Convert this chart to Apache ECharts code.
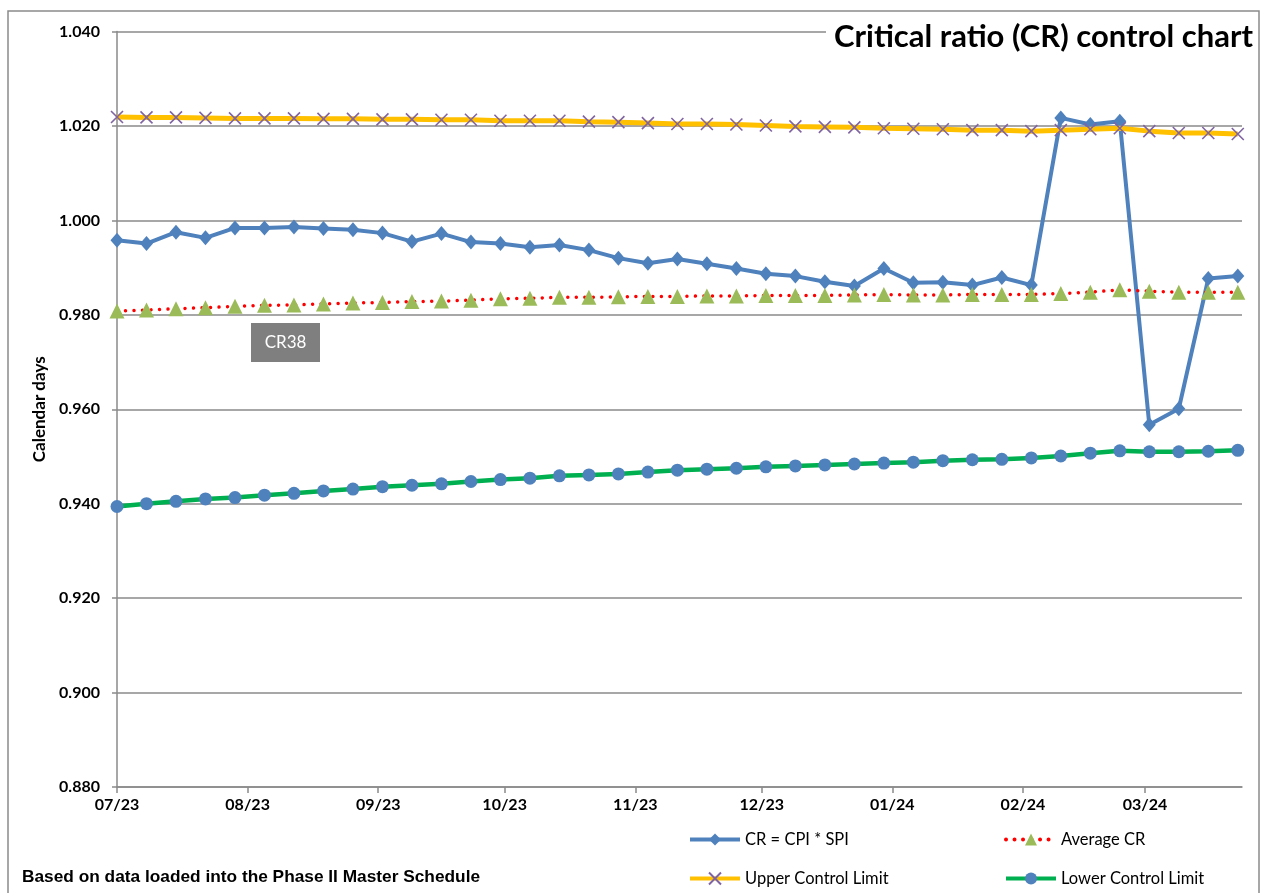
<!DOCTYPE html>
<html>
<head>
<meta charset="utf-8">
<script src="https://cdn.jsdelivr.net/npm/echarts@6/dist/echarts.min.js"></script>
<style>
html,body{margin:0;padding:0;background:#fff;}
#chart{width:1265px;height:893px;}
</style>
</head>
<body>
<div id="chart"></div>
<script>
// ---- data ----
const weekDates = ['2023-07-01','2023-07-08','2023-07-15','2023-07-22','2023-07-29',
  '2023-08-05','2023-08-12','2023-08-19','2023-08-26',
  '2023-09-02','2023-09-09','2023-09-16','2023-09-23','2023-09-30',
  '2023-10-07','2023-10-14','2023-10-21','2023-10-28',
  '2023-11-04','2023-11-11','2023-11-18','2023-11-25',
  '2023-12-02','2023-12-09','2023-12-16','2023-12-23','2023-12-30',
  '2024-01-06','2024-01-13','2024-01-20','2024-01-27',
  '2024-02-03','2024-02-10','2024-02-17','2024-02-24',
  '2024-03-02','2024-03-09','2024-03-16','2024-03-23'];
const crValues = [0.9958,0.9951,0.9975,0.9963,0.9984,0.9984,0.9986,0.9983,0.9980,0.9973,
  0.9955,0.9972,0.9954,0.9951,0.9943,0.9948,0.9937,0.9920,0.9909,0.9918,
  0.9908,0.9898,0.9887,0.9882,0.9870,0.9861,0.9898,0.9868,0.9869,0.9863,
  0.9879,0.9863,1.0217,1.0203,1.0210,0.9567,0.9601,0.9877,0.9882];
const avgValues = [0.9808,0.9810,0.9813,0.9815,0.9818,0.9820,0.9821,0.9823,0.9825,0.9826,
  0.9828,0.9829,0.9831,0.9834,0.9835,0.9837,0.9837,0.9838,0.9839,0.9839,
  0.9840,0.9840,0.9841,0.9841,0.9841,0.9842,0.9843,0.9842,0.9842,0.9843,
  0.9843,0.9843,0.9845,0.9848,0.9853,0.9850,0.9848,0.9848,0.9848];
const uclValues = [1.0219,1.0218,1.0218,1.0217,1.0216,1.0216,1.0216,1.0215,1.0215,1.0214,
  1.0214,1.0213,1.0213,1.0211,1.0211,1.0211,1.0209,1.0208,1.0206,1.0204,
  1.0204,1.0203,1.0201,1.0199,1.0198,1.0197,1.0195,1.0194,1.0193,1.0191,
  1.0191,1.0189,1.0191,1.0193,1.0195,1.0189,1.0185,1.0185,1.0183];
const lclValues = [0.9394,0.9400,0.9405,0.9410,0.9413,0.9418,0.9422,0.9427,0.9431,0.9436,
  0.9439,0.9442,0.9447,0.9451,0.9454,0.9459,0.9461,0.9463,0.9467,0.9471,
  0.9473,0.9475,0.9478,0.9480,0.9482,0.9484,0.9486,0.9488,0.9491,0.9493,
  0.9494,0.9497,0.9501,0.9507,0.9512,0.9510,0.9510,0.9511,0.9513];
const monthTicks = ['2023-07-01','2023-08-01','2023-09-01','2023-10-01','2023-11-01',
  '2023-12-01','2024-01-01','2024-02-01','2024-03-01'];
const monthLabels = ['07/23','08/23','09/23','10/23','11/23','12/23','01/24','02/24','03/24'];
const axisStart = '2023-07-01';
const axisEnd = '2024-03-24';
const seriesNames = ['CR = CPI * SPI','Average CR','Upper Control Limit','Lower Control Limit'];

// ---- helpers ----
function ts(s){ const p = s.split('-').map(Number); return Date.UTC(p[0], p[1]-1, p[2]); }
const tickTs = monthTicks.map(ts);
function pairs(vals){ return weekDates.map((d,i)=>[ts(d), vals[i]]); }

const FONT = 'Lato, "Open Sans", sans-serif';
const GRAY = '#8a8a8a';
const xSym = 'path://M0,0L10,10M10,0L0,10';

const legendCommon = {
  orient:'vertical', top:831, itemWidth:50, itemHeight:15, itemGap:22, padding:0,
  lineStyle:{width:4},
  textStyle:{fontFamily:FONT, fontSize:16.5, color:'#000'}
};

const chart = echarts.init(document.getElementById('chart'), null, {renderer:'canvas'});
chart.setOption({
  animation:false,
  backgroundColor:'#fff',
  title:{
    text:'Critical ratio (CR) control chart',
    right:7, top:17,
    padding:[4,5,3,8],
    backgroundColor:'#fff',
    textStyle:{fontFamily:FONT, fontWeight:'bold', fontSize:31, color:'#000'}
  },
  grid:{left:117, right:23, top:31.5, bottom:106, outerBoundsMode:'none', containLabel:false},
  xAxis:{
    type:'value',
    min:ts(axisStart), max:ts(axisEnd),
    axisLine:{show:true, lineStyle:{color:GRAY, width:1.5}},
    axisTick:{show:true, length:6, lineStyle:{color:GRAY, width:1.5}, customValues:tickTs},
    splitLine:{show:false},
    axisLabel:{
      customValues:tickTs,
      margin:10,
      fontFamily:FONT, fontWeight:'bold', fontSize:16, color:'#000',
      formatter:function(v){ const i = tickTs.indexOf(v); return i>=0 ? monthLabels[i] : ''; }
    }
  },
  yAxis:{
    type:'value', min:0.88, max:1.04, interval:0.02,
    name:'Calendar days', nameLocation:'middle', nameGap:61, nameRotate:90,
    nameTextStyle:{fontFamily:FONT, fontWeight:'bold', fontSize:17, color:'#000'},
    axisLine:{show:true, lineStyle:{color:GRAY, width:1.5}},
    axisTick:{show:true, length:5, lineStyle:{color:GRAY, width:1.5}},
    splitLine:{show:true, lineStyle:{color:GRAY, width:1.5}},
    axisLabel:{margin:17, fontFamily:FONT, fontWeight:'bold', fontSize:16, color:'#000',
      formatter:function(v){ return v.toFixed(3); }}
  },
  legend:[
    Object.assign({data:[seriesNames[0], seriesNames[2]], left:688}, legendCommon),
    Object.assign({data:[seriesNames[1], seriesNames[3]], left:1004}, legendCommon)
  ],
  series:[
    {name:seriesNames[0], type:'line', data:pairs(crValues),
     symbol:'diamond', symbolSize:[13,15], showAllSymbol:true,
     lineStyle:{color:'#4F81BD', width:4}, itemStyle:{color:'#4F81BD'}, z:2},
    {name:seriesNames[1], type:'line', data:pairs(avgValues),
     symbol:'triangle', symbolSize:15, showAllSymbol:true,
     lineStyle:{color:'#FF0000', width:3.5, type:[0.01,8.5], cap:'round'},
     itemStyle:{color:'#9BBB59'}, z:3},
    {name:seriesNames[2], type:'line', data:pairs(uclValues),
     symbol:xSym, symbolSize:12, showAllSymbol:true,
     lineStyle:{color:'#FFC000', width:5},
     itemStyle:{color:'rgba(0,0,0,0)', borderColor:'#8064A2', borderWidth:1.6}, z:4},
    {name:seriesNames[3], type:'line', data:pairs(lclValues),
     symbol:'circle', symbolSize:13, showAllSymbol:true,
     lineStyle:{color:'#00B050', width:4.5}, itemStyle:{color:'#4F81BD'}, z:5}
  ],
  graphic:[
    {type:'rect', z:100, silent:true,
     shape:{x:8, y:11, width:1251, height:900},
     style:{fill:'none', stroke:GRAY, lineWidth:1.5}},
    {type:'group', left:251, top:323, z:50, children:[
      {type:'rect', shape:{x:0,y:0,width:69,height:39}, style:{fill:'#7f7f7f'}},
      {type:'text', x:34.5, y:19.5, style:{text:'CR38', fill:'#fff', font:'17px Lato, sans-serif', align:'center', verticalAlign:'middle'}}
    ]},
    {type:'text', left:22, top:869, z:50,
     style:{text:'Based on data loaded into the Phase II Master Schedule', fill:'#000',
       font:'bold 17.3px "Liberation Sans", Arial, sans-serif'}}
  ]
});
</script>
</body>
</html>
